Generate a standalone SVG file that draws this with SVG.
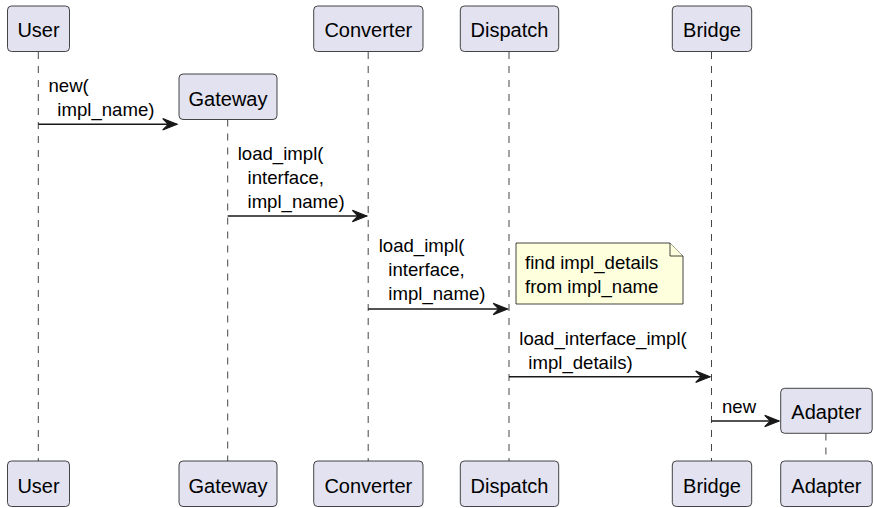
<svg xmlns="http://www.w3.org/2000/svg" width="873" height="508" viewBox="0 0 873 508">
<style>
.box{fill:#E2E2F0;stroke:#181818;stroke-width:0.8}
.life{stroke:#181818;stroke-width:0.8;stroke-dasharray:7,7;fill:none}
.pt{font-family:"Liberation Sans",Arial,sans-serif;font-size:20px;fill:#000;text-anchor:middle}
.msg{font-family:"Liberation Sans",Arial,sans-serif;font-size:18.6px;fill:#000}
.arr{stroke:#181818;stroke-width:1.5;fill:none}
.head{fill:#181818;stroke:#181818;stroke-width:1.2}
.note{fill:#FEFFDD;stroke:#181818;stroke-width:0.8}
</style>
<defs>
<marker id="ah" markerUnits="userSpaceOnUse" markerWidth="16" markerHeight="14" refX="14.3" refY="6" orient="auto" overflow="visible">
<polygon class="head" points="0,0.3 14.3,6 0,11.7 5.7,6"/>
</marker>
</defs>
<g id="lifelines">
<line class="life" x1="38.3" y1="52" x2="38.3" y2="461"/>
<line class="life" x1="227.7" y1="119.5" x2="227.7" y2="461"/>
<line class="life" x1="368.2" y1="52" x2="368.2" y2="461"/>
<line class="life" x1="509" y1="52" x2="509" y2="461"/>
<line class="life" x1="711.5" y1="52" x2="711.5" y2="461"/>
<line class="life" x1="825.9" y1="433.5" x2="825.9" y2="461"/>
</g>
<g id="connectors">
<g id="m1"><line class="arr" x1="38.3" y1="124.3" x2="177" y2="124.3" marker-end="url(#ah)"/>
<text class="msg" x="48.5" y="92">new(</text><text class="msg" x="57.3" y="116">impl_name)</text></g>
<g id="m2"><line class="arr" x1="227.7" y1="216" x2="366.7" y2="216" marker-end="url(#ah)"/>
<text class="msg" x="237.7" y="159.5">load_impl(</text><text class="msg" x="247.5" y="183.5">interface,</text><text class="msg" x="247.5" y="207.5">impl_name)</text></g>
<g id="m3"><line class="arr" x1="368.2" y1="309" x2="507.5" y2="309" marker-end="url(#ah)"/>
<text class="msg" x="378.7" y="252">load_impl(</text><text class="msg" x="388.3" y="276">interface,</text><text class="msg" x="388.3" y="300">impl_name)</text></g>
<g id="m4"><line class="arr" x1="509" y1="376.7" x2="710" y2="376.7" marker-end="url(#ah)"/>
<text class="msg" x="519.3" y="345">load_interface_impl(</text><text class="msg" x="528.3" y="368.5">impl_details)</text></g>
<g id="m5"><line class="arr" x1="711.5" y1="421" x2="779" y2="421" marker-end="url(#ah)"/>
<text class="msg" x="722" y="413">new</text></g>
</g>
<g id="note">
<path class="note" d="M516,243 L670,243 L683,256 L683,304 L516,304 Z"/>
<path class="note" d="M670,243 L670,256 L683,256" fill="none"/>
<text class="msg" x="525" y="268.5">find impl_details</text>
<text class="msg" x="525" y="292.5">from impl_name</text>
</g>
<g id="User">
<rect class="box" x="7.5" y="6" width="62" height="45.5" rx="4"/><text class="pt" x="38.5" y="37">User</text>
<rect class="box" x="7.5" y="461" width="62" height="45.5" rx="4"/><text class="pt" x="38.5" y="492.5">User</text>
</g>
<g id="Gateway">
<rect class="box" x="179" y="74" width="98" height="45.5" rx="4"/><text class="pt" x="228" y="105.5">Gateway</text>
<rect class="box" x="179" y="461" width="98" height="45.5" rx="4"/><text class="pt" x="228" y="492.5">Gateway</text>
</g>
<g id="Converter">
<rect class="box" x="313.7" y="6" width="109.3" height="45.5" rx="4"/><text class="pt" x="368.3" y="37">Converter</text>
<rect class="box" x="313.7" y="461" width="109.3" height="45.5" rx="4"/><text class="pt" x="368.3" y="492.5">Converter</text>
</g>
<g id="Dispatch">
<rect class="box" x="460.3" y="6" width="98.4" height="45.5" rx="4"/><text class="pt" x="509.5" y="37">Dispatch</text>
<rect class="box" x="460.3" y="461" width="98.4" height="45.5" rx="4"/><text class="pt" x="509.5" y="492.5">Dispatch</text>
</g>
<g id="Bridge">
<rect class="box" x="672.3" y="6" width="79.4" height="45.5" rx="4"/><text class="pt" x="712" y="37">Bridge</text>
<rect class="box" x="672.3" y="461" width="79.4" height="45.5" rx="4"/><text class="pt" x="712" y="492.5">Bridge</text>
</g>
<g id="Adapter">
<rect class="box" x="780.7" y="388.3" width="91.5" height="45" rx="4"/><text class="pt" x="826.4" y="419">Adapter</text>
<rect class="box" x="780.7" y="461" width="91.5" height="45.5" rx="4"/><text class="pt" x="826.4" y="492.5">Adapter</text>
</g>
</svg>
